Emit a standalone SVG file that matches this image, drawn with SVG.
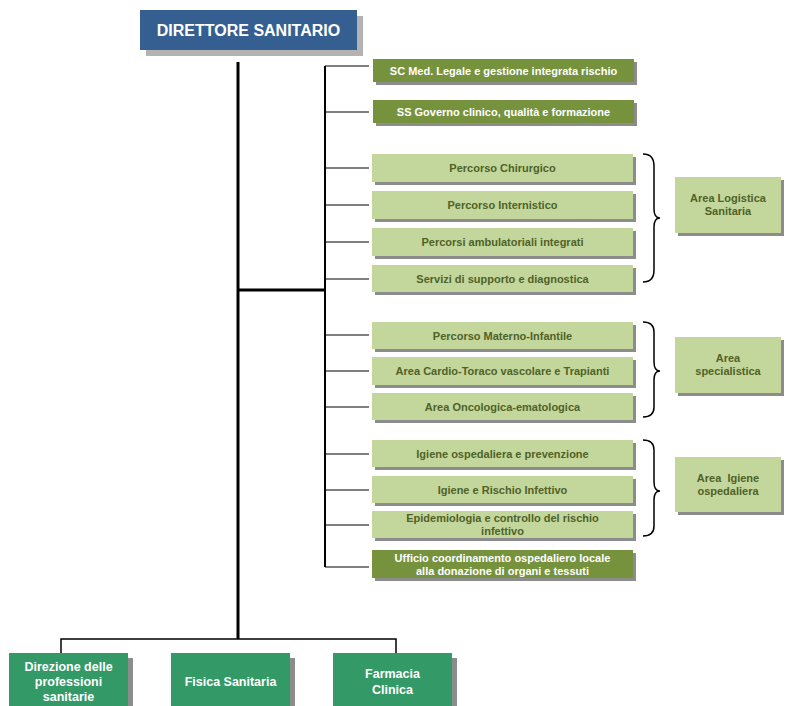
<svg xmlns="http://www.w3.org/2000/svg" width="790" height="706" viewBox="0 0 790 706">
<style>
text{font-family:"Liberation Sans",Arial,sans-serif;font-weight:bold;text-anchor:middle}
.sh{fill:#8c8c8c}
.blue{fill:#365F91}
.dk{fill:#76923C}
.lt{fill:#C3D69B}
.bg{fill:#339966}
.tw{fill:#ffffff;font-size:11px}
.tl{fill:#4F6228;font-size:11px}
.tb{fill:#ffffff;font-size:12.5px}
.c{stroke:#000;fill:none}
</style>
<rect width="790" height="706" fill="#ffffff"/>
<g id="connectors">
<path class="c" stroke-width="3" d="M238 62V639M238 290H325"/>
<path class="c" stroke-width="2" d="M325 66V567"/>
<path class="c" stroke-width="1.2" d="M325 66H369M325 112H369M325 168H369M325 205H369M325 242H369M325 279H369M325 335H369M325 371H369M325 407H369M325 454H369M325 490H369M325 525H369M325 567H369"/>
<path class="c" stroke-width="1.5" d="M61 653V639H396V653"/>
<path class="c" stroke-width="1.5" d="M643 154Q654 154 654 166V209Q654 218 660 218Q654 218 654 227V270Q654 282 643 282"/>
<path class="c" stroke-width="1.5" d="M643 322Q654 322 654 332V362Q654 371 660 371Q654 371 654 380V407Q654 417 643 417"/>
<path class="c" stroke-width="1.5" d="M643 440Q654 440 654 450V482Q654 491 660 491Q654 491 654 500V526Q654 536 643 536"/>
</g>
<g id="direttore">
<rect x="146" y="16" width="217" height="40" fill="#b3b3b3"/>
<rect class="blue" x="140" y="10" width="217" height="40"/>
<text x="248.5" y="36" fill="#ffffff" font-size="16">DIRETTORE SANITARIO</text>
</g>
<g id="sc-med">
<rect class="sh" x="376" y="62" width="261" height="23"/>
<rect class="dk" x="373" y="59" width="261" height="23"/>
<text class="tw" x="503.5" y="74.5">SC Med. Legale e gestione integrata rischio</text>
</g>
<g id="ss-governo">
<rect class="sh" x="376" y="103" width="261" height="23"/>
<rect class="dk" x="373" y="100" width="261" height="23"/>
<text class="tw" x="503.5" y="115.5">SS Governo clinico, qualità e formazione</text>
</g>
<g id="chirurgico">
<rect class="sh" x="375" y="157" width="261" height="28"/>
<rect class="lt" x="372" y="154" width="261" height="28"/>
<text class="tl" x="502.5" y="172">Percorso Chirurgico</text>
</g>
<g id="internistico">
<rect class="sh" x="375" y="194" width="261" height="28"/>
<rect class="lt" x="372" y="191" width="261" height="28"/>
<text class="tl" x="502.5" y="209">Percorso Internistico</text>
</g>
<g id="ambulatoriali">
<rect class="sh" x="375" y="231" width="261" height="28"/>
<rect class="lt" x="372" y="228" width="261" height="28"/>
<text class="tl" x="502.5" y="246">Percorsi ambulatoriali integrati</text>
</g>
<g id="servizi">
<rect class="sh" x="375" y="268" width="261" height="27"/>
<rect class="lt" x="372" y="265" width="261" height="27"/>
<text class="tl" x="502.5" y="282.5">Servizi di supporto e diagnostica</text>
</g>
<g id="materno">
<rect class="sh" x="375" y="325" width="261" height="27"/>
<rect class="lt" x="372" y="322" width="261" height="27"/>
<text class="tl" x="502.5" y="339.5">Percorso Materno-Infantile</text>
</g>
<g id="cardio">
<rect class="sh" x="375" y="360" width="261" height="28"/>
<rect class="lt" x="372" y="357" width="261" height="28"/>
<text class="tl" x="502.5" y="375">Area Cardio-Toraco vascolare e Trapianti</text>
</g>
<g id="oncologica">
<rect class="sh" x="375" y="396" width="261" height="27"/>
<rect class="lt" x="372" y="393" width="261" height="27"/>
<text class="tl" x="502.5" y="410.5">Area Oncologica-ematologica</text>
</g>
<g id="igiene-osp">
<rect class="sh" x="375" y="443" width="261" height="27"/>
<rect class="lt" x="372" y="440" width="261" height="27"/>
<text class="tl" x="502.5" y="457.5">Igiene ospedaliera e prevenzione</text>
</g>
<g id="igiene-rischio">
<rect class="sh" x="375" y="479" width="261" height="27"/>
<rect class="lt" x="372" y="476" width="261" height="27"/>
<text class="tl" x="502.5" y="493.5">Igiene e Rischio Infettivo</text>
</g>
<g id="epidemiologia">
<rect class="sh" x="375" y="514" width="261" height="27"/>
<rect class="lt" x="372" y="511" width="261" height="27"/>
<text class="tl" x="502.5" y="522">Epidemiologia e controllo del rischio</text>
<text class="tl" x="502.5" y="535">infettivo</text>
</g>
<g id="ufficio">
<rect class="sh" x="375" y="553" width="261" height="28"/>
<rect class="dk" x="372" y="550" width="261" height="28"/>
<text class="tw" x="502.5" y="562">Ufficio coordinamento ospedaliero locale</text>
<text class="tw" x="502.5" y="575">alla donazione di organi e tessuti</text>
</g>
<g id="area-logistica">
<rect class="sh" x="678" y="180" width="106" height="56"/>
<rect class="lt" x="675" y="177" width="106" height="56"/>
<text class="tl" x="728" y="202">Area Logistica</text>
<text class="tl" x="728" y="215">Sanitaria</text>
</g>
<g id="area-specialistica">
<rect class="sh" x="678" y="340" width="106" height="56"/>
<rect class="lt" x="675" y="337" width="106" height="56"/>
<text class="tl" x="728" y="362">Area</text>
<text class="tl" x="728" y="375">specialistica</text>
</g>
<g id="area-igiene">
<rect class="sh" x="678" y="460" width="106" height="55"/>
<rect class="lt" x="675" y="457" width="106" height="55"/>
<text class="tl" x="728" y="482" xml:space="preserve">Area  Igiene</text>
<text class="tl" x="728" y="495">ospedaliera</text>
</g>
<g id="direzione">
<rect class="sh" x="14" y="658" width="119" height="48"/>
<rect class="bg" x="9" y="653" width="119" height="53"/>
<text class="tb" x="68.5" y="671">Direzione delle</text>
<text class="tb" x="68.5" y="686">professioni</text>
<text class="tb" x="68.5" y="701">sanitarie</text>
</g>
<g id="fisica">
<rect class="sh" x="176" y="658" width="119" height="48"/>
<rect class="bg" x="171" y="653" width="119" height="53"/>
<text class="tb" x="230.5" y="686">Fisica Sanitaria</text>
</g>
<g id="farmacia">
<rect class="sh" x="338" y="658" width="119" height="48"/>
<rect class="bg" x="333" y="653" width="119" height="53"/>
<text class="tb" x="392.5" y="678">Farmacia</text>
<text class="tb" x="392.5" y="694">Clinica</text>
</g>
</svg>
